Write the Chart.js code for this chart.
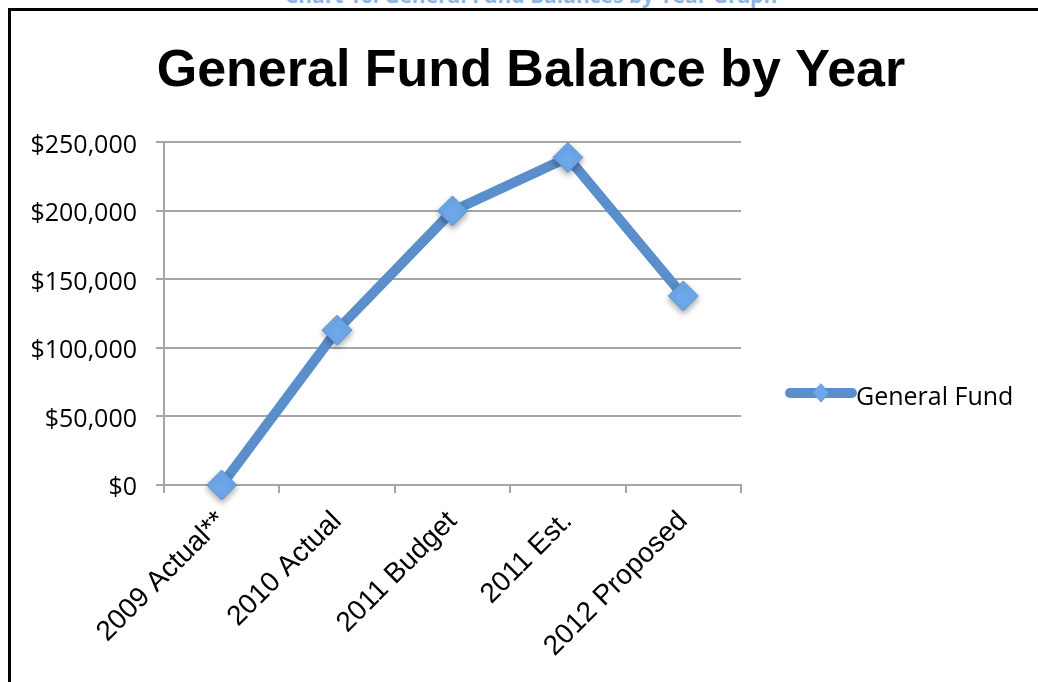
<!DOCTYPE html>
<html><head><meta charset="utf-8">
<script src="https://cdn.jsdelivr.net/npm/chart.js@4/dist/chart.umd.min.js"></script>
<style>
html,body{margin:0;padding:0;width:1038px;height:682px;overflow:hidden;background:#fff;}
#cap{position:absolute;left:0;width:1062px;top:-17px;text-align:center;font:bold 21px "Open Sans";color:#8db4e6;white-space:nowrap;line-height:24px;}
#frame{position:absolute;left:8px;top:8px;width:1100px;height:800px;border:3px solid #000;box-sizing:border-box;pointer-events:none;}
#wrap{position:absolute;left:12px;top:12px;width:1038px;height:670px;}
</style></head><body>
<div id="cap">Chart 16: General Fund Balances by Year Graph</div>
<div id="wrap"><canvas id="c" width="1038" height="670"></canvas></div>
<div id="frame"></div>
<script>
const categories = ['2009 Actual**', '2010 Actual', '2011 Budget', '2011 Est.', '2012 Proposed'];
const generalFund = [0, 113000, 200000, 239000, 138000];
const yTickValues = [0, 50000, 100000, 150000, 200000, 250000];
const yTickLabels = ['$0', '$50,000', '$100,000', '$150,000', '$200,000', '$250,000'];
const seriesName = 'General Fund';
const chartTitle = 'General Fund Balance by Year';

const lineColor = '#5a8fcb';
const markerFill = '#6ea8ea';
const markerBorder = '#5b95d8';
const gridColor = '#a6a6a6';

const shadowPlugin = {
  id: 'markerShadow',
  beforeDatasetDraw(chart, args) {
    if (args.index === 1) {
      const ctx = chart.ctx;
      ctx.save();
      ctx.shadowColor = 'rgba(0,0,0,0.35)';
      ctx.shadowBlur = 6;
      ctx.shadowOffsetY = 3;
    }
  },
  afterDatasetDraw(chart, args) {
    if (args.index === 1) chart.ctx.restore();
  }
};

const legendPlugin = {
  id: 'sideLegend',
  afterDraw(chart) {
    const ctx = chart.ctx;
    const x0 = chart.chartArea.right + 49;
    const y = 381;
    ctx.save();
    ctx.lineCap = 'round';
    ctx.strokeStyle = lineColor;
    ctx.lineWidth = 10;
    ctx.beginPath();
    ctx.moveTo(x0, y);
    ctx.lineTo(x0 + 62, y);
    ctx.stroke();
    const cx = x0 + 31;
    ctx.fillStyle = markerFill;
    ctx.strokeStyle = markerBorder;
    ctx.lineWidth = 1;
    ctx.beginPath();
    ctx.moveTo(cx, y - 9);
    ctx.lineTo(cx + 8, y);
    ctx.lineTo(cx, y + 9);
    ctx.lineTo(cx - 8, y);
    ctx.closePath();
    ctx.fill();
    ctx.stroke();
    ctx.fillStyle = '#000';
    ctx.font = '25px "Open Sans"';
    ctx.textBaseline = 'alphabetic';
    ctx.textAlign = 'left';
    ctx.fillText(seriesName, x0 + 66, 393);
    ctx.restore();
  }
};

new Chart(document.getElementById('c'), {
  type: 'line',
  data: {
    labels: categories,
    datasets: [
      {
        label: seriesName, data: generalFund, order: 1,
        borderColor: lineColor, borderWidth: 10, tension: 0,
        borderCapStyle: 'round', borderJoinStyle: 'round',
        pointRadius: 0, pointHoverRadius: 0, fill: false, clip: false
      },
      {
        label: seriesName, data: generalFund, order: 0, showLine: false,
        pointStyle: 'rectRot', pointRadius: 15, pointHoverRadius: 15,
        pointBackgroundColor: markerFill, pointBorderColor: markerBorder,
        pointBorderWidth: 1, clip: false
      }
    ]
  },
  options: {
    responsive: false,
    animation: false,
    devicePixelRatio: 1,
    layout: { padding: 0 },
    plugins: {
      legend: { display: false },
      tooltip: { enabled: false },
      title: {
        display: true, text: chartTitle, color: '#000',
        font: { family: '"Liberation Sans", Arial, sans-serif', size: 52, weight: 'bold', lineHeight: 1.2 },
        padding: { top: 28, bottom: 40 }
      }
    },
    scales: {
      x: {
        type: 'category', offset: true,
        grid: { offset: true, drawOnChartArea: false, drawTicks: true, tickLength: 8, color: gridColor, lineWidth: 2 },
        border: { display: true, color: gridColor, width: 2 },
        ticks: {
          minRotation: 45, maxRotation: 45, autoSkip: false, padding: 12, color: '#000',
          font: { family: '"Liberation Sans", Arial, sans-serif', size: 28 }
        },
        afterFit(scale) { scale.height = 197; }
      },
      y: {
        min: 0, max: 250000,
        afterBuildTicks(scale) { scale.ticks = yTickValues.map(v => ({ value: v })); },
        grid: { color: gridColor, lineWidth: 2, tickLength: 8, drawTicks: true },
        border: { display: true, color: gridColor, width: 2 },
        ticks: {
          padding: 19, color: '#000', labelOffset: 3,
          font: { family: '"Open Sans", sans-serif', size: 25 },
          callback(value) { return yTickLabels[yTickValues.indexOf(value)]; }
        },
        afterFit(scale) { scale.width = 152; }
      },
      legendSpace: {
        position: 'right', min: 0, max: 250000,
        grid: { display: false, drawOnChartArea: false },
        border: { display: false },
        ticks: { display: false },
        afterFit(scale) { scale.width = 309; }
      }
    }
  },
  plugins: [shadowPlugin, legendPlugin]
});
</script>
</body></html>
